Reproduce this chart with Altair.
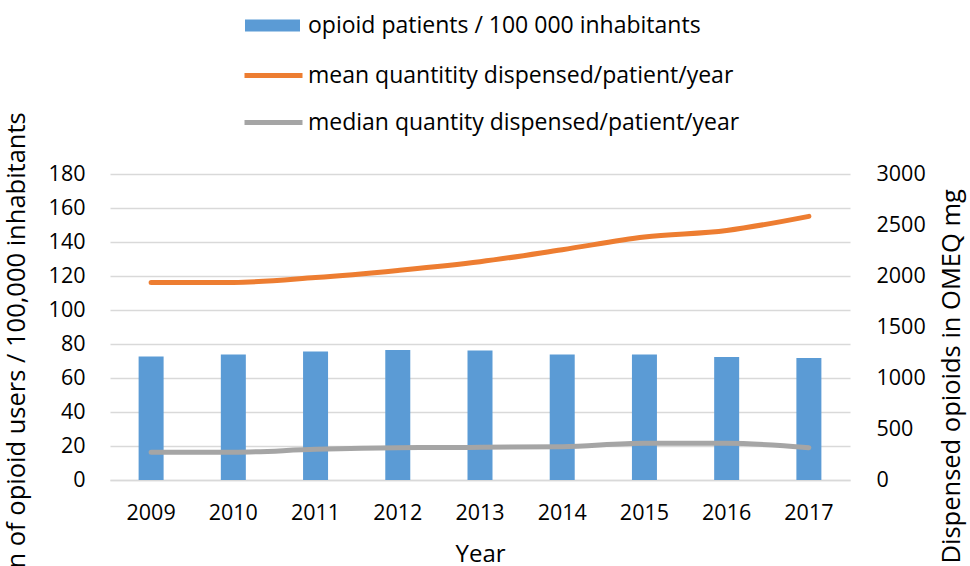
import altair as alt
import pandas as pd

years = ["2009", "2010", "2011", "2012", "2013", "2014", "2015", "2016", "2017"]
patients = [72.6, 73.8, 75.6, 76.4, 76.2, 73.8, 73.8, 72.4, 71.7]
mean_qty = [1937, 1937, 1985, 2055, 2140, 2258, 2382, 2447, 2585]
median_qty = [272, 272, 301, 317, 320, 327, 360, 360, 317]

bar_name = "opioid patients / 100 000 inhabitants"
mean_name = "mean quantitity dispensed/patient/year"
median_name = "median quantity dispensed/patient/year"

left_title = "n of opioid users / 100,000 inhabitants"
right_title = "Dispensed opioids in OMEQ mg"
x_title = "Year"
left_ticks = list(range(0, 181, 20))
right_ticks = list(range(0, 3001, 500))

FONT = "Open Sans"
TICK = 21.5
LEG = 23

bars_df = pd.DataFrame({"year": years, "value": patients, "series": bar_name})
lines_df = pd.concat([
    pd.DataFrame({"year": years, "value": mean_qty, "series": mean_name}),
    pd.DataFrame({"year": years, "value": median_qty, "series": median_name}),
])

x_enc = alt.X(
    "year:N",
    sort=years,
    scale=alt.Scale(paddingInner=0.7, paddingOuter=0.35),
    axis=alt.Axis(
        title=x_title, labelAngle=0, ticks=False, domain=True,
        domainColor="#D9D9D9", domainWidth=1.5, labelPadding=22,
        labelFontSize=TICK, titleFontSize=24, titleY=81,
        titleBaseline="alphabetic", titleFontWeight="normal",
    ),
)

bars = alt.Chart(bars_df).mark_bar(size=25).encode(
    x=x_enc,
    y=alt.Y(
        "value:Q",
        scale=alt.Scale(domain=[0, 180]),
        axis=alt.Axis(
            values=left_ticks, format="d", grid=True, gridColor="#D9D9D9", gridWidth=1.5,
            domain=False, ticks=False, labelPadding=25, labelFontSize=TICK,
            title=left_title, titleFontSize=25.5, titleFontWeight="normal",
            titleAngle=-90, titleAlign="left", titleBaseline="alphabetic",
            titleX=-86, titleY=394,
        ),
    ),
    fill=alt.Fill(
        "series:N",
        scale=alt.Scale(domain=[bar_name], range=["#5B9BD5"]),
        legend=alt.Legend(
            orient="none", legendX=135, legendY=-176, title=None,
            symbolType="M-1,-0.22H1V0.22H-1Z", symbolSize=3025,
            symbolStrokeWidth=0, labelFontSize=LEG, labelLimit=600,
            labelOffset=8, labelColor="#000000", labelFont=FONT,
        ),
    ),
)

lines = alt.Chart(lines_df).mark_line(strokeWidth=5, strokeCap="round", interpolate="monotone").encode(
    x=x_enc,
    y=alt.Y(
        "value:Q",
        scale=alt.Scale(domain=[0, 3000]),
        axis=alt.Axis(
            orient="right", values=right_ticks, format="d", grid=False, domain=False,
            ticks=False, labelPadding=26, labelFontSize=TICK,
            title=right_title, titleFontSize=25.5, titleFontWeight="normal",
            titleAngle=-90, titleAlign="left", titleBaseline="alphabetic",
            titleX=109, titleY=389,
        ),
    ),
    stroke=alt.Stroke(
        "series:N",
        sort=[mean_name, median_name],
        scale=alt.Scale(domain=[mean_name, median_name], range=["#ED7D31", "#A5A5A5"]),
        legend=alt.Legend(
            orient="none", legendX=132, legendY=-130, title=None,
            symbolType="stroke", symbolSize=3364, symbolStrokeWidth=5,
            labelFontSize=LEG, labelLimit=600, labelOffset=3, rowPadding=3,
            labelColor="#000000", labelFont=FONT,
        ),
    ),
)

chart = alt.layer(bars, lines).resolve_scale(
    y="independent", fill="independent", stroke="independent"
).properties(
    width=740, height=306,
    autosize=alt.AutoSizeParams(type="none"),
    padding={"left": 110, "top": 174, "right": 120, "bottom": 86},
    background="white",
).configure_view(stroke=None).configure_axis(
    labelFont=FONT, titleFont=FONT, labelColor="#000000", titleColor="#000000",
)

chart.save("out.html", embed_options={"renderer": "svg", "actions": False})
